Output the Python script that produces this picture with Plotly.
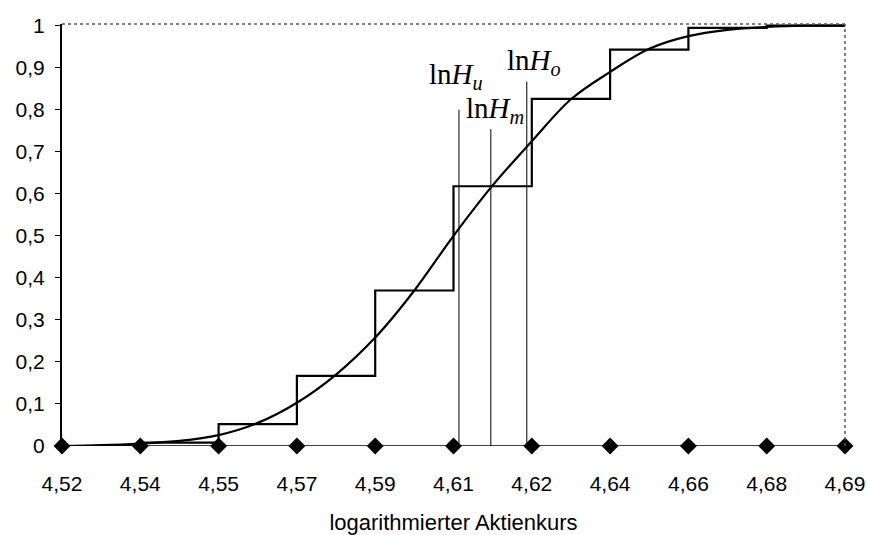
import plotly.graph_objects as go

# x tick positions (log share price) and their printed labels
tick_vals = [4.5204, 4.5376, 4.5548, 4.5720, 4.5892, 4.6064, 4.6236, 4.6408, 4.6580, 4.6752, 4.6924]
tick_text = ["4,52", "4,54", "4,55", "4,57", "4,59", "4,61", "4,62", "4,64", "4,66", "4,68", "4,69"]

# empirical (step) distribution function
step_y = [0.0, 0.008, 0.052, 0.167, 0.37, 0.618, 0.826, 0.943, 0.995, 1.0, 1.0]

# smooth fitted distribution function
curve_x = [4.5204, 4.5290, 4.5376, 4.5462, 4.5548, 4.5634, 4.5720, 4.5806, 4.5892, 4.5978,
           4.6064, 4.6150, 4.6236, 4.6322, 4.6408, 4.6494, 4.6580, 4.6666, 4.6752, 4.6838, 4.6924]
curve_y = [0.0, 0.002, 0.006, 0.012, 0.026, 0.055, 0.103, 0.17, 0.258, 0.37,
           0.5, 0.62, 0.725, 0.825, 0.89, 0.945, 0.975, 0.99, 0.997, 1.0, 1.0]

# barrier markers
barrier_x = [4.6076, 4.6146, 4.6225]
barrier_top = [0.80, 0.754, 0.867]
barrier_labels = ["ln<i>H</i><sub><i>u</i></sub>", "ln<i>H</i><sub><i>m</i></sub>", "ln<i>H</i><sub><i>o</i></sub>"]

fig = go.Figure()

for bx, bt in zip(barrier_x, barrier_top):
    fig.add_trace(go.Scatter(x=[bx, bx], y=[0, bt], mode="lines",
                             line=dict(color="black", width=1), showlegend=False, hoverinfo="skip"))

fig.add_trace(go.Scatter(x=tick_vals, y=step_y, mode="lines", line_shape="hv",
                         line=dict(color="black", width=2.2), showlegend=False))
fig.add_trace(go.Scatter(x=curve_x, y=curve_y, mode="lines", line_shape="spline",
                         line=dict(color="black", width=2.2), showlegend=False))
fig.add_trace(go.Scatter(x=tick_vals, y=[0] * len(tick_vals), mode="lines+markers",
                         line=dict(color="black", width=1.5),
                         marker=dict(symbol="diamond", size=13, color="black"),
                         cliponaxis=False, showlegend=False))

label_pos = [(4.6069, 0.88), (4.6156, 0.80), (4.6240, 0.913)]
for (lx, ly), txt in zip(label_pos, barrier_labels):
    fig.add_annotation(x=lx, y=ly, text=txt, showarrow=False, xanchor="center", yanchor="middle",
                       font=dict(family="Liberation Serif", size=29, color="black"))

# dotted top and right frame
fig.add_shape(type="line", xref="paper", yref="paper", x0=0, x1=1, y0=1, y1=1,
              line=dict(color="#555", width=1.5, dash="dot"))
fig.add_shape(type="line", xref="paper", yref="paper", x0=1, x1=1, y0=0, y1=1,
              line=dict(color="#555", width=1.5, dash="dot"))

fig.update_layout(
    width=870, height=535,
    margin=dict(l=62, r=25, t=24, b=89),
    paper_bgcolor="white", plot_bgcolor="white",
    separators=", ",
    font=dict(family="Liberation Sans", size=21, color="black"),
    xaxis=dict(range=[4.5204, 4.6924], tickvals=tick_vals, ticktext=tick_text,
               showgrid=False, zeroline=False, showline=False, ticks="",
               ticklabelstandoff=23, automargin=False,
               title=dict(text="logarithmierter Aktienkurs", standoff=20,
                          font=dict(size=22))),
    yaxis=dict(range=[0, 1.004], tickvals=[0, 0.1, 0.2, 0.3, 0.4, 0.5, 0.6, 0.7, 0.8, 0.9, 1.0],
               ticktext=["0", "0,1", "0,2", "0,3", "0,4", "0,5", "0,6", "0,7", "0,8", "0,9", "1"],
               showgrid=False, zeroline=False, showline=True, linecolor="black", linewidth=2,
               ticks="outside", ticklen=5, tickcolor="black", tickwidth=1,
               ticklabelstandoff=6, automargin=False),
)

fig.write_html("out.html")
